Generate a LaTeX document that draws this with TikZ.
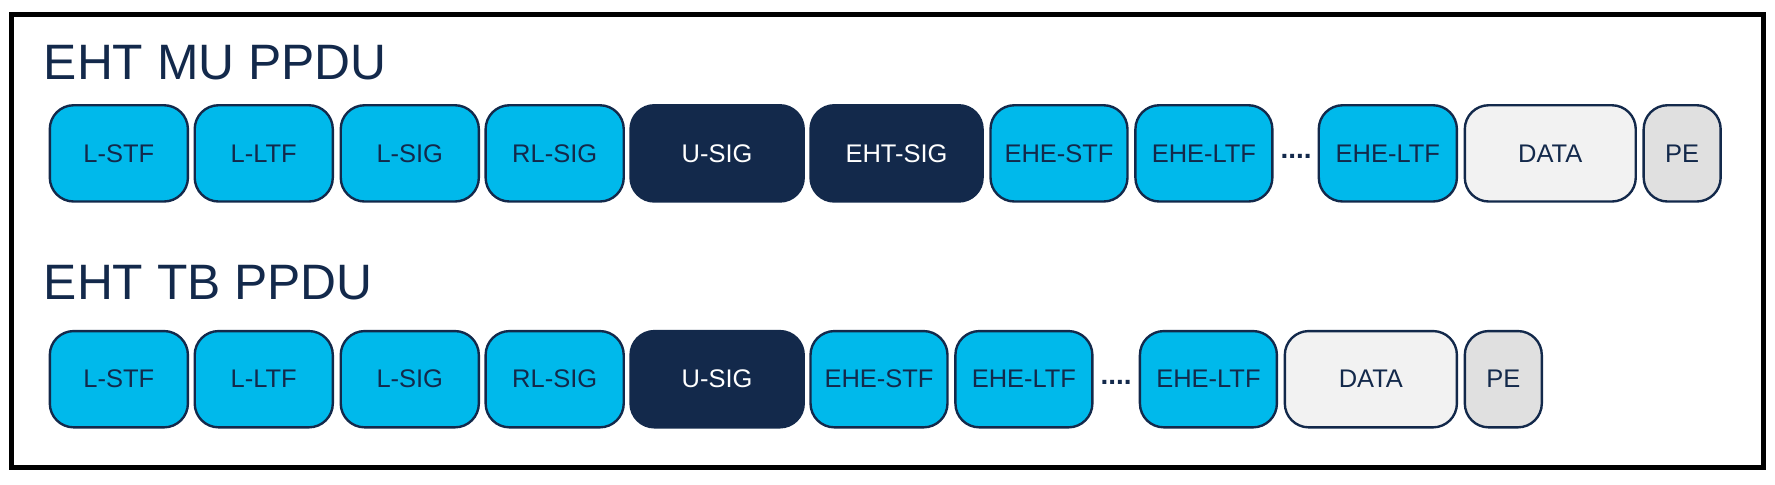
\documentclass[tikz,border=0pt]{standalone}
\usepackage{fontspec}
\setmainfont{Liberation Sans}
\usetikzlibrary{positioning}
\definecolor{navy}{RGB}{19, 41, 75}
\definecolor{cyanf}{RGB}{0, 185, 235}
\definecolor{paleg}{RGB}{242, 242, 242}
\definecolor{midg}{RGB}{224, 224, 224}

\begin{document}
\begin{tikzpicture}[
   x=0.01cm, y=-0.01cm,
   field/.style={rectangle, rounded corners=6pt, draw=navy, line width=0.6pt,
                 inner sep=0, minimum height=0.85cm, text=navy, font=\fontsize{6.4pt}{6.4pt}\selectfont},
   lite/.style={field, fill=cyanf},
   dark/.style={field, fill=navy, text=white},
   pale/.style={field, fill=paleg},
   grey/.style={field, fill=midg},
   title/.style={anchor=base west, inner sep=0, text=navy, font=\fontsize{12.5pt}{12.5pt}\selectfont}
  ]

  % Frame
  \useasboundingbox (0, 0) rectangle (1568, 428);
  \draw[line width=1.3pt] (10, 13) rectangle (1558, 413);

  % EHT MU PPDU
  \node (mu) at (38, 70) [title] {EHT MU PPDU};
  \foreach \N/\A/\B/\L/\S in {a1/44/166/L-STF/lite, a2/172/294/L-LTF/lite, a3/301/423/L-SIG/lite,
      a4/429/551/RL-SIG/lite, a5/557/710/U-SIG/dark, a6/716/868/EHT-SIG/dark,
      a7/875/996/EHE-STF/lite, a8/1003/1124/EHE-LTF/lite, a9/1165/1287/EHE-LTF/lite,
      a10/1294/1445/DATA/pale, a11/1452/1520/PE/grey} {
    \node (\N) at ({(\A+\B)/2}, 135.5) [\S, minimum width={(\B-\A)*0.01cm}] {\L};
  }
  \node (mudots) at (1145, 138) [text=navy, font=\fontsize{7pt}{7pt}\selectfont\bfseries] {....};

  % EHT TB PPDU
  \node (tb) at (38, 265) [title] {EHT TB PPDU};
  \foreach \N/\A/\B/\L/\S in {b1/44/166/L-STF/lite, b2/172/294/L-LTF/lite, b3/301/423/L-SIG/lite,
      b4/429/551/RL-SIG/lite, b5/557/710/U-SIG/dark,
      b6/716/837/EHE-STF/lite, b7/844/965/EHE-LTF/lite, b8/1007/1128/EHE-LTF/lite,
      b9/1135/1287/DATA/pale, b10/1294/1362/PE/grey} {
    \node (\N) at ({(\A+\B)/2}, 335) [\S, minimum width={(\B-\A)*0.01cm}] {\L};
  }
  \node (tbdots) at (986, 338) [text=navy, font=\fontsize{7pt}{7pt}\selectfont\bfseries] {....};

\end{tikzpicture}
\end{document}
